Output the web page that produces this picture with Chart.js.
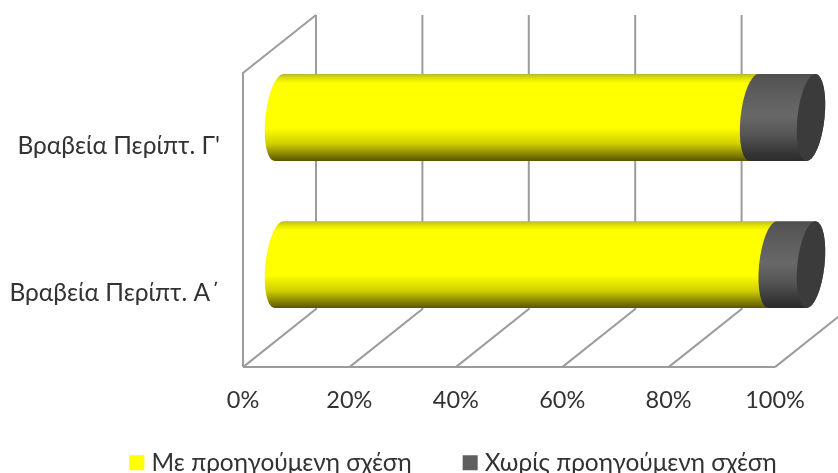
<!DOCTYPE html>
<html>
<head>
<meta charset="utf-8">
<style>
  html, body { margin: 0; padding: 0; background: #fff; }
  canvas { display: block; }
</style>
<script src="https://cdn.jsdelivr.net/npm/chart.js@4/dist/chart.umd.min.js"></script>
</head>
<body>
<canvas id="c" width="838" height="473"></canvas>
<script>
const categories = ["Βραβεία Περίπτ. Γ'", "Βραβεία Περίπτ. Α΄"];
const withRelation = [89.3, 92.8];
const withoutRelation = [10.7, 7.2];
const seriesNames = ["Με προηγούμενη σχέση", "Χωρίς προηγούμενη σχέση"];

// Perspective offsets of the 3D box: the back wall, and the plane the cylinders sit in.
const wallDX = 73, wallDY = -58;
const barDX = 36, barDY = -29;
const capRX = 13.5, tilt = 0.11;

const fontFamily = "Lato, 'Noto Sans', sans-serif";

function wallPlugin(chart) {
  const { ctx } = chart;
  const x = chart.scales.x, area = chart.chartArea;
  ctx.save();
  ctx.strokeStyle = '#9c9c9c';
  ctx.lineWidth = 2;
  ctx.beginPath();
  // side wall outline
  ctx.moveTo(area.left, area.bottom);
  ctx.lineTo(area.left, area.top);
  ctx.lineTo(area.left + wallDX, area.top + wallDY);
  // front edge of the floor
  ctx.moveTo(area.left, area.bottom);
  ctx.lineTo(area.right, area.bottom);
  // one floor diagonal and one back-wall line per tick
  x.ticks.forEach(t => {
    const px = x.getPixelForValue(t.value);
    ctx.moveTo(px, area.bottom);
    ctx.lineTo(px + wallDX, area.bottom + wallDY);
    ctx.lineTo(px + wallDX, area.top + wallDY);
  });
  ctx.stroke();
  ctx.restore();
}

function cylinderAngles(ry) {
  const tb = Math.atan2(ry * Math.cos(tilt), capRX * Math.sin(tilt));
  return { bottom: tb, top: tb - Math.PI };
}

function segment(ctx, x0, x1, cy, ry) {
  const a = cylinderAngles(ry);
  ctx.beginPath();
  ctx.ellipse(x0, cy, capRX, ry, tilt, a.bottom, a.top + 2 * Math.PI);
  ctx.ellipse(x1, cy, capRX, ry, tilt, a.top, a.bottom);
  ctx.closePath();
}

const shades = [
  [[0, '#b4b43a'], [0.05, '#e2e200'], [0.11, '#ffff00'], [0.62, '#ffff00'], [0.8, '#cfcf00'], [0.94, '#7d7800'], [1, '#585300']],
  [[0, '#4e4e4e'], [0.08, '#565656'], [0.48, '#686868'], [0.7, '#555555'], [0.92, '#343434'], [1, '#2c2c2c']]
];

const cylinderPlugin = {
  id: 'cylinders',
  afterLayout(chart) {
    // The legend row sits below the tick labels, right of the canvas centre.
    const lg = chart.legend;
    lg.left += 68;
    lg.right += 68;
    lg.top = 394.5;
    lg.bottom = 394.5 + lg.height;
  },
  beforeDatasetsDraw(chart) {
    wallPlugin(chart);
    const { ctx } = chart;
    chart.data.datasets.forEach((ds, di) => {
      chart.getDatasetMeta(di).data.forEach(el => {
        const ry = el.height / 2, cy = el.y + barDY;
        const g = ctx.createLinearGradient(0, cy - ry, 0, cy + ry);
        shades[di].forEach(s => g.addColorStop(s[0], s[1]));
        ctx.fillStyle = g;
        segment(ctx, el.base + barDX, el.x + barDX, cy, ry);
        ctx.fill();
        if (di === chart.data.datasets.length - 1) {
          ctx.fillStyle = '#3b3b3b';
          ctx.beginPath();
          ctx.ellipse(el.x + barDX, cy, capRX, ry, tilt, 0, 2 * Math.PI);
          ctx.fill();
        }
      });
    });
    return false;
  }
};

new Chart(document.getElementById('c'), {
  type: 'bar',
  data: {
    labels: categories,
    datasets: [
      { label: seriesNames[0], data: withRelation, backgroundColor: '#ffff00', stack: 's', barPercentage: 0.594, categoryPercentage: 1 },
      { label: seriesNames[1], data: withoutRelation, backgroundColor: '#5f5f5f', stack: 's', barPercentage: 0.594, categoryPercentage: 1 }
    ]
  },
  plugins: [cylinderPlugin],
  options: {
    indexAxis: 'y',
    responsive: false,
    animation: false,
    layout: { padding: { top: 73, right: 63, left: 0, bottom: -34.5 } },
    scales: {
      x: {
        stacked: true, min: 0, max: 100,
        grid: { display: false },
        border: { display: false },
        afterFit(s) { s.height = 50; s.paddingLeft = 0; s.paddingRight = 0; },
        ticks: {
          stepSize: 20, padding: 11, maxRotation: 0, color: '#333333',
          font: { family: fontFamily, size: 23.5 },
          callback: v => v + '%'
        }
      },
      y: {
        stacked: true,
        grid: { display: false },
        border: { display: false },
        afterFit(s) { s.width = 243; },
        ticks: {
          padding: 15, color: '#333333', autoSkip: false,
          font: { family: fontFamily, size: 24.5 }
        }
      }
    },
    plugins: {
      tooltip: { enabled: false },
      legend: {
        position: 'bottom',
        labels: {
          usePointStyle: true, pointStyle: 'rect',
          boxWidth: 5, boxHeight: 15, padding: 56, color: '#333333',
          font: { family: fontFamily, size: 24.4 }
        }
      }
    }
  }
});
</script>
</body>
</html>
